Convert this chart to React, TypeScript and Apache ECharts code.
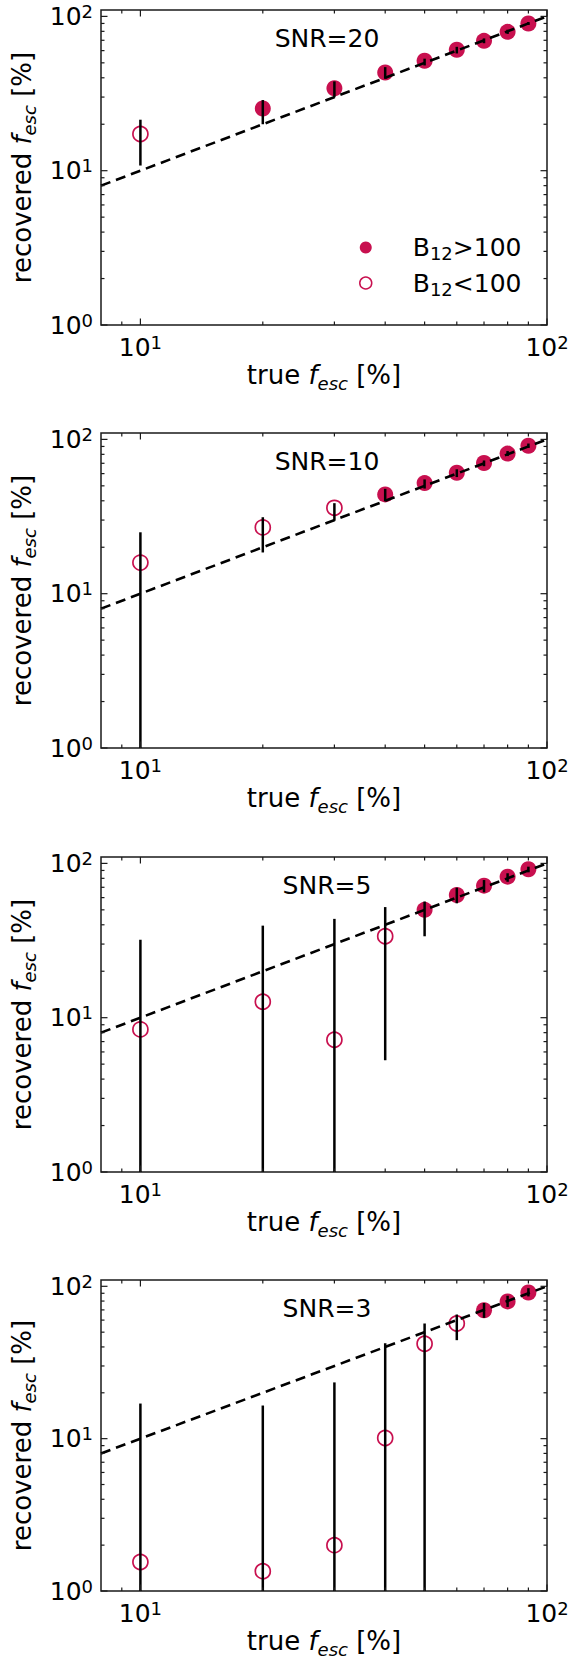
import React, { useEffect, useRef } from "react";
import * as echarts from "echarts";

// ---------- data ----------
const trueF = [10, 20, 30, 40, 50, 60, 70, 80, 90];
const snrLabels = ["SNR=20", "SNR=10", "SNR=5", "SNR=3"];
const oneToOne = [8, 100];

const xMajorTicks = [10, 100];
const xMinorTicks = [9, 20, 30, 40, 50, 60, 70, 80, 90];
const yMajorTicks = [1, 10, 100];
const yMinorTicks = [2, 3, 4, 5, 6, 7, 8, 9, 20, 30, 40, 50, 60, 70, 80, 90];

// SNR = 20
const rec20 = [17.3, 25.3, 34.2, 43.3, 51.6, 60.8, 69.4, 79.4, 89.9];
const lo20 = [10.8, 20.0, 29.9, 39.4, 48.1, 57.5, 67.0, 77.0, 88.0];
const hi20 = [21.4, 28.7, 37.9, 46.9, 53.2, 63.5, 72.0, 82.0, 92.0];
const bright20 = [false, true, true, true, true, true, true, true, true];

// SNR = 10
const rec10 = [15.9, 26.9, 36.0, 44.0, 52.1, 60.8, 70.3, 80.9, 90.9];
const lo10 = [1, 18.5, 29.7, 39.7, 48.0, 57.0, 67.0, 78.0, 88.0];
const hi10 = [25.0, 31.3, 38.6, 47.8, 55.0, 64.0, 73.0, 84.0, 94.0];
const bright10 = [false, false, false, true, true, true, true, true, true];

// SNR = 5
const rec5 = [8.4, 12.7, 7.2, 33.7, 50.0, 62.4, 71.7, 82.0, 91.6];
const lo5 = [1, 1, 1, 5.3, 33.7, 55.1, 65.0, 76.0, 87.5];
const hi5 = [32.0, 39.5, 43.7, 52.1, 56.6, 69.6, 78.0, 86.3, 95.2];
const bright5 = [false, false, false, false, true, true, true, true, true];

// SNR = 3
const rec3 = [1.55, 1.35, 2.0, 10.1, 42.0, 57.0, 69.6, 79.6, 91.0];
const lo3 = [1, 1, 1, 1, 1, 44.3, 62.1, 73.2, 85.8];
const hi3 = [17.0, 16.5, 23.4, 42.3, 57.0, 65.3, 77.7, 86.7, 97.2];
const bright3 = [false, false, false, false, false, false, true, true, true];

// ---------- style / layout ----------
const RED = "#C8104F";
const FONT = "DejaVu Sans";
const GRID_TOPS = [10, 433, 857, 1280];
const GRID_H = 315;
const GRID_LEFT = 101;
const GRID_W = 446;

const panels = [
  { label: snrLabels[0], rec: rec20, lo: lo20, hi: hi20, bright: bright20 },
  { label: snrLabels[1], rec: rec10, lo: lo10, hi: hi10, bright: bright10 },
  { label: snrLabels[2], rec: rec5, lo: lo5, hi: hi5, bright: bright5 },
  { label: snrLabels[3], rec: rec3, lo: lo3, hi: hi3, bright: bright3 },
];

const tickRich = {
  b: { fontSize: 25, fontFamily: FONT, color: "#000", lineHeight: 28 },
  s: { fontSize: 18, fontFamily: FONT, color: "#000", lineHeight: 12, verticalAlign: "top" },
};

const nameRich = {
  n: { fontSize: 26, fontFamily: FONT, color: "#000", lineHeight: 34 },
  i: { fontSize: 26, fontFamily: FONT, color: "#000", lineHeight: 34, fontStyle: "italic" },
  sub: { fontSize: 18, fontFamily: FONT, color: "#000", lineHeight: 17, fontStyle: "italic", verticalAlign: "bottom" },
};

const legendRich = {
  a: { fontSize: 25, fontFamily: FONT, color: "#000", lineHeight: 30, padding: [0, 0, 0, 36] },
  n: { fontSize: 25, fontFamily: FONT, color: "#000", lineHeight: 30 },
  sub: { fontSize: 18, fontFamily: FONT, color: "#000", lineHeight: 17, verticalAlign: "bottom" },
};

function powFmt(v: number) {
  const l = Math.log10(v);
  const e = Math.round(l);
  if (Math.abs(l - e) > 1e-6) return "";
  return `{b|10}{s|${e}}`;
}

function buildOption() {
  const grid: any[] = [];
  const xAxis: any[] = [];
  const yAxis: any[] = [];
  const series: any[] = [];
  const graphic: any[] = [];

  panels.forEach((p, i) => {
    grid.push({
      left: GRID_LEFT,
      top: GRID_TOPS[i],
      width: GRID_W,
      height: GRID_H,
      show: true,
      borderColor: "#1a1a1a",
      borderWidth: 1.5,
      backgroundColor: "transparent",
    });
    xAxis.push({
      gridIndex: i,
      type: "log",
      logBase: 10,
      min: 8,
      max: 100,
      axisLine: { show: false },
      axisTick: { show: false },
      splitLine: { show: false },
      axisLabel: { formatter: powFmt, margin: 8, color: "#000", rich: tickRich },
      name: "{n|true }{i|f}{sub|esc}{n| [%]}",
      nameLocation: "middle",
      nameGap: 33,
      nameTextStyle: { rich: nameRich },
    });
    yAxis.push({
      gridIndex: i,
      type: "log",
      logBase: 10,
      min: 1,
      max: 110,
      axisLine: { show: false },
      axisTick: { show: false },
      splitLine: { show: false },
      axisLabel: { formatter: powFmt, margin: 8, color: "#000", rich: tickRich },
      name: "{n|recovered }{i|f}{sub|esc}{n| [%]}",
      nameLocation: "middle",
      nameRotate: 90,
      nameGap: 55,
      nameTextStyle: { rich: nameRich },
    });

    const filled: number[][] = [];
    const open: number[][] = [];
    trueF.forEach((x, j) => {
      if (p.bright[j]) filled.push([x, p.rec[j]]);
      else open.push([x, p.rec[j]]);
    });

    series.push({
      type: "scatter",
      name: "fill",
      xAxisIndex: i,
      yAxisIndex: i,
      data: filled,
      symbol: "circle",
      symbolSize: 16,
      itemStyle: { color: RED, opacity: 1 },
      z: 2,
    });
    series.push({
      type: "scatter",
      name: "open",
      xAxisIndex: i,
      yAxisIndex: i,
      data: open,
      symbol: "circle",
      symbolSize: 15,
      itemStyle: { color: "#ffffff", borderColor: RED, borderWidth: 1.7, opacity: 1 },
      z: 2,
    });
    // error bars
    series.push({
      type: "custom",
      xAxisIndex: i,
      yAxisIndex: i,
      data: trueF.map((x, j) => [x, p.lo[j], p.hi[j]]),
      encode: { x: 0, y: [1, 2] },
      clip: true,
      z: 3,
      silent: true,
      renderItem: (params: any, api: any) => {
        const a = api.coord([api.value(0), api.value(1)]);
        const b = api.coord([api.value(0), api.value(2)]);
        return {
          type: "line",
          shape: { x1: a[0], y1: a[1], x2: b[0], y2: b[1] },
          style: { stroke: "#000", lineWidth: 2.5 },
        };
      },
    });
    // one-to-one dashed line
    series.push({
      type: "line",
      xAxisIndex: i,
      yAxisIndex: i,
      data: oneToOne.map((v) => [v, v]),
      symbol: "none",
      lineStyle: { color: "#000", width: 2.6, type: [10, 6] },
      z: 4,
      silent: true,
    });
    // x ticks (bottom and top, inward)
    series.push({
      type: "custom",
      xAxisIndex: i,
      yAxisIndex: i,
      data: xMajorTicks.map((v) => [v, 10, 1]).concat(xMinorTicks.map((v) => [v, 10, 0])),
      encode: { x: 0, y: 1 },
      clip: false,
      z: 5,
      silent: true,
      renderItem: (params: any, api: any) => {
        const cs = params.coordSys;
        const pt = api.coord([api.value(0), 10]);
        const len = api.value(2) ? 6.5 : 3.5;
        const bottom = cs.y + cs.height;
        return {
          type: "group",
          children: [
            { type: "line", shape: { x1: pt[0], y1: bottom, x2: pt[0], y2: bottom - len }, style: { stroke: "#1a1a1a", lineWidth: 1.2 } },
            { type: "line", shape: { x1: pt[0], y1: cs.y, x2: pt[0], y2: cs.y + len }, style: { stroke: "#1a1a1a", lineWidth: 1.2 } },
          ],
        };
      },
    });
    // y ticks (left and right, inward)
    series.push({
      type: "custom",
      xAxisIndex: i,
      yAxisIndex: i,
      data: yMajorTicks.map((v) => [10, v, 1]).concat(yMinorTicks.map((v) => [10, v, 0])),
      encode: { x: 0, y: 1 },
      clip: false,
      z: 5,
      silent: true,
      renderItem: (params: any, api: any) => {
        const cs = params.coordSys;
        const pt = api.coord([10, api.value(1)]);
        const len = api.value(2) ? 6.5 : 3.5;
        const right = cs.x + cs.width;
        return {
          type: "group",
          children: [
            { type: "line", shape: { x1: cs.x, y1: pt[1], x2: cs.x + len, y2: pt[1] }, style: { stroke: "#1a1a1a", lineWidth: 1.2 } },
            { type: "line", shape: { x1: right, y1: pt[1], x2: right - len, y2: pt[1] }, style: { stroke: "#1a1a1a", lineWidth: 1.2 } },
          ],
        };
      },
    });

    graphic.push({
      type: "text",
      x: 327,
      y: GRID_TOPS[i] + 28.5,
      style: {
        text: p.label,
        fontSize: 25,
        fontFamily: FONT,
        fill: "#000",
        textAlign: "center",
        textVerticalAlign: "middle",
        align: "center",
        verticalAlign: "middle",
      },
    });
  });

  return {
    animation: false,
    backgroundColor: "#ffffff",
    textStyle: { fontFamily: FONT },
    grid,
    xAxis,
    yAxis,
    series,
    graphic,
    legend: {
      left: 359,
      top: 235,
      orient: "vertical",
      padding: 0,
      itemWidth: 12,
      itemHeight: 12,
      itemGap: 8,
      icon: "circle",
      selectedMode: false,
      data: [
        { name: "fill", itemStyle: { color: RED, opacity: 1 } },
        { name: "open", itemStyle: { color: "#ffffff", borderColor: RED, borderWidth: 1.5, opacity: 1 } },
      ],
      formatter: (n: string) => (n === "fill" ? "{a|B}{sub|12}{n|>100}" : "{a|B}{sub|12}{n|<100}"),
      textStyle: { rich: legendRich },
    },
  };
}

export default function App() {
  const ref = useRef<HTMLDivElement>(null);
  useEffect(() => {
    if (!ref.current) return;
    const chart = echarts.init(ref.current, undefined, { renderer: "svg" });
    chart.setOption(buildOption() as any);
    return () => chart.dispose();
  }, []);
  return (
    <div
      ref={ref}
      style={{ position: "absolute", left: 0, top: 0, width: 582, height: 1659, background: "#fff" }}
    />
  );
}
